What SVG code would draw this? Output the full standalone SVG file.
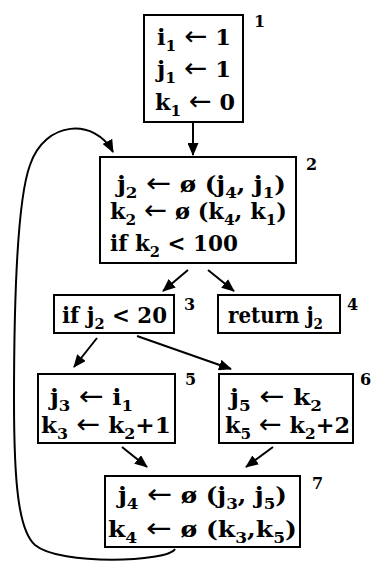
<svg xmlns="http://www.w3.org/2000/svg" width="372" height="564" viewBox="0 0 372 564">
<defs>
<marker id="ah" viewBox="0 0 13 11" refX="12" refY="5.5" markerWidth="13" markerHeight="11" markerUnits="userSpaceOnUse" orient="auto">
<path d="M0,0 L13,5.5 L0,11 Z" fill="#000"/>
</marker>
</defs>
<style>
rect{fill:#fff;stroke:#000;stroke-width:2}
text{font-family:"DejaVu Serif","Liberation Serif",serif;font-weight:bold;font-size:22px;fill:#000}
.s{font-size:15px}
.a{font-family:"DejaVu Sans",sans-serif;font-weight:normal;font-size:27px}
.n{font-size:16px}
.c path,.c line{fill:none;stroke:#000;stroke-width:2;marker-end:url(#ah)}
</style>
<rect width="372" height="564" style="fill:#fff;stroke:none"/>
<g class="c" id="connectors">
<line x1="193" y1="123" x2="193" y2="155"/>
<line x1="188" y1="270" x2="163" y2="291"/>
<line x1="208" y1="270" x2="234" y2="291"/>
<line x1="97" y1="338" x2="74" y2="367"/>
<line x1="137" y1="336" x2="231" y2="369"/>
<line x1="122" y1="447" x2="147" y2="467"/>
<line x1="273" y1="447" x2="246" y2="467"/>
<path d="M175 549 C168 562,60 566,35 545 C18 530,14 480,14 400 C14 300,17 200,30 165 C45 120,95 118,113 152"/>
</g>
<g id="n1">
<rect x="144" y="15" width="99" height="107"/>
<text x="157" y="45" textLength="74" lengthAdjust="spacingAndGlyphs">i<tspan class="s" dy="6">1</tspan><tspan dy="-6"> </tspan><tspan class="a">←</tspan> 1</text>
<text x="157" y="77" textLength="74" lengthAdjust="spacingAndGlyphs">j<tspan class="s" dy="6">1</tspan><tspan dy="-6"> </tspan><tspan class="a">←</tspan> 1</text>
<text x="155" y="110" textLength="80" lengthAdjust="spacingAndGlyphs">k<tspan class="s" dy="6">1</tspan><tspan dy="-6"> </tspan><tspan class="a">←</tspan> 0</text>
<text class="n" x="254" y="27">1</text>
</g>
<g id="n2">
<rect x="100" y="157" width="196" height="106"/>
<text x="117" y="192" textLength="169" lengthAdjust="spacingAndGlyphs">j<tspan class="s" dy="6">2</tspan><tspan dy="-6"> </tspan><tspan class="a">←</tspan> ø (j<tspan class="s" dy="6">4</tspan><tspan dy="-6">,  j</tspan><tspan class="s" dy="6">1</tspan><tspan dy="-6">)</tspan></text>
<text x="110" y="219" textLength="177" lengthAdjust="spacingAndGlyphs">k<tspan class="s" dy="6">2</tspan><tspan dy="-6"> </tspan><tspan class="a">←</tspan> ø (k<tspan class="s" dy="6">4</tspan><tspan dy="-6">, k</tspan><tspan class="s" dy="6">1</tspan><tspan dy="-6">)</tspan></text>
<text x="110" y="251" textLength="128" lengthAdjust="spacingAndGlyphs">if k<tspan class="s" dy="6">2</tspan><tspan dy="-6"> &lt; 100</tspan></text>
<text class="n" x="306" y="170">2</text>
</g>
<g id="n3">
<rect x="54" y="295" width="120" height="38"/>
<text x="62" y="323" textLength="105" lengthAdjust="spacingAndGlyphs">if j<tspan class="s" dy="6">2</tspan><tspan dy="-6"> &lt; 20</tspan></text>
<text class="n" x="184" y="310">3</text>
</g>
<g id="n4">
<rect x="218" y="295" width="122" height="38"/>
<text x="228" y="323" textLength="95" lengthAdjust="spacingAndGlyphs">return j<tspan class="s" dy="6">2</tspan></text>
<text class="n" x="347" y="310">4</text>
</g>
<g id="n5">
<rect x="38" y="374" width="137" height="69"/>
<text x="50" y="405" textLength="83" lengthAdjust="spacingAndGlyphs">j<tspan class="s" dy="6">3</tspan><tspan dy="-6"> </tspan><tspan class="a">←</tspan> i<tspan class="s" dy="6">1</tspan></text>
<text x="41" y="433" textLength="130" lengthAdjust="spacingAndGlyphs">k<tspan class="s" dy="6">3</tspan><tspan dy="-6"> </tspan><tspan class="a">←</tspan> k<tspan class="s" dy="6">2</tspan><tspan dy="-6">+1</tspan></text>
<text class="n" x="185" y="385">5</text>
</g>
<g id="n6">
<rect x="219" y="374" width="134" height="69"/>
<text x="230" y="405" textLength="92" lengthAdjust="spacingAndGlyphs">j<tspan class="s" dy="6">5</tspan><tspan dy="-6"> </tspan><tspan class="a">←</tspan> k<tspan class="s" dy="6">2</tspan></text>
<text x="225" y="433" textLength="125" lengthAdjust="spacingAndGlyphs">k<tspan class="s" dy="6">5</tspan><tspan dy="-6"> </tspan><tspan class="a">←</tspan> k<tspan class="s" dy="6">2</tspan><tspan dy="-6">+2</tspan></text>
<text class="n" x="360" y="385">6</text>
</g>
<g id="n7">
<rect x="105" y="476" width="195" height="71"/>
<text x="118" y="503" textLength="169" lengthAdjust="spacingAndGlyphs">j<tspan class="s" dy="6">4</tspan><tspan dy="-6"> </tspan><tspan class="a">←</tspan> ø (j<tspan class="s" dy="6">3</tspan><tspan dy="-6">, j</tspan><tspan class="s" dy="6">5</tspan><tspan dy="-6">)</tspan></text>
<text x="108" y="537" textLength="189" lengthAdjust="spacingAndGlyphs">k<tspan class="s" dy="6">4</tspan><tspan dy="-6"> </tspan><tspan class="a">←</tspan> ø (k<tspan class="s" dy="6">3</tspan><tspan dy="-6">,k</tspan><tspan class="s" dy="6">5</tspan><tspan dy="-6">)</tspan></text>
<text class="n" x="312" y="489">7</text>
</g>
</svg>
